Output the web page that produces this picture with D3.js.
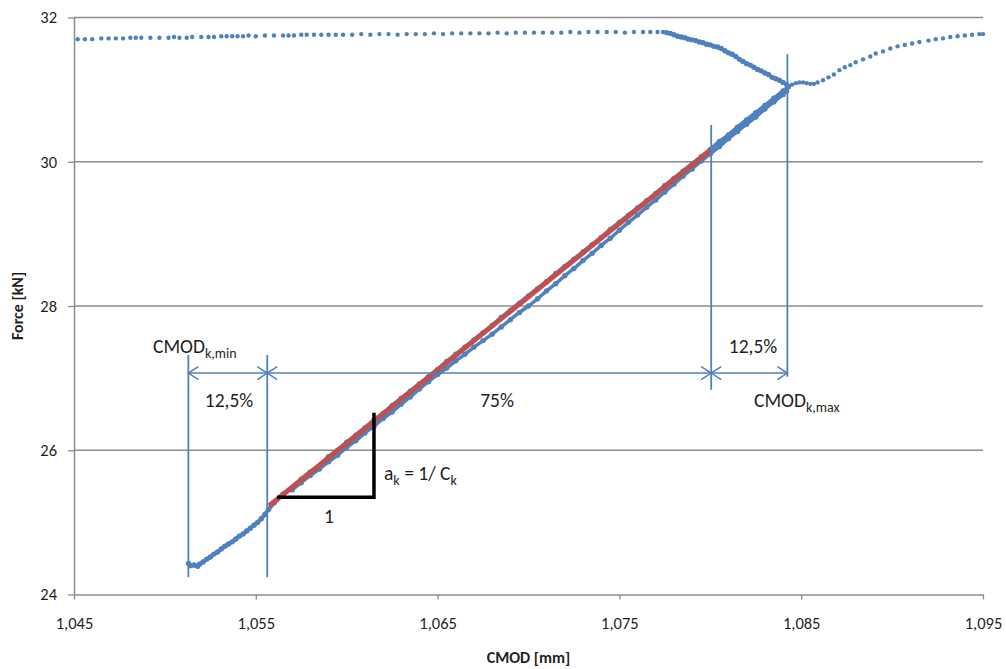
<!DOCTYPE html>
<html>
<head>
<meta charset="utf-8">
<script src="https://cdn.jsdelivr.net/npm/d3@7"></script>
<style>
  body { margin: 0; background: #fff; }
  text { font-family: Carlito, Calibri, Lato, sans-serif; fill: #1f1f1f; }
</style>
</head>
<body>
<div id="chart"></div>
<script>
// axis ticks
let xTicks = [1.045, 1.055, 1.065, 1.075, 1.085, 1.095];
let yTicks = [24, 26, 28, 30, 32];

// top plateau of the record (CMOD [mm], Force [kN])
let topFlat = [
  [1.0452,31.70],[1.0456,31.70],[1.0460,31.70],[1.0465,31.71],[1.0469,31.71],[1.0473,31.71],[1.0477,31.71],[1.0481,31.72],
  [1.0484,31.72],[1.0487,31.72],[1.0492,31.72],[1.0497,31.72],[1.0502,31.72],[1.0505,31.73],[1.0508,31.72],[1.0512,31.72],
  [1.0515,31.73],[1.0520,31.73],[1.0524,31.73],[1.0527,31.73],[1.0531,31.74],[1.0534,31.74],[1.0537,31.74],[1.0540,31.74],
  [1.0543,31.74],[1.0546,31.75],[1.0550,31.74],[1.0555,31.75],[1.0560,31.75],[1.0565,31.75],[1.0568,31.75],[1.0571,31.75],
  [1.0575,31.76],[1.0578,31.76],[1.0582,31.76],[1.0586,31.76],[1.0590,31.76],[1.0594,31.76],[1.0598,31.76],[1.0603,31.76],
  [1.0608,31.77],[1.0613,31.76],[1.0618,31.77],[1.0623,31.77],[1.0628,31.76],[1.0633,31.77],[1.0638,31.77],[1.0643,31.77],
  [1.0648,31.78],[1.0653,31.77],[1.0658,31.78],[1.0663,31.78],[1.0668,31.78],[1.0673,31.78],[1.0678,31.78],[1.0683,31.79],
  [1.0688,31.78],[1.0693,31.79],[1.0698,31.79],[1.0703,31.79],[1.0708,31.79],[1.0713,31.79],[1.0718,31.79],[1.0723,31.80],
  [1.0728,31.79],[1.0733,31.80],[1.0738,31.80],[1.0743,31.80],[1.0748,31.80],[1.0753,31.79],[1.0758,31.80],[1.0763,31.80],
  [1.0767,31.80],[1.0771,31.80],[1.0774,31.80]
];

// unloading drop towards CMOD k,max
let topDrop = [
  [1.0776,31.79],[1.0778,31.78],[1.0780,31.76],[1.0782,31.74],[1.0784,31.73],[1.0786,31.72],[1.0788,31.70],[1.0790,31.69],
  [1.0792,31.68],[1.0794,31.66],[1.0796,31.65],[1.0798,31.63],[1.0800,31.62],[1.0802,31.60],[1.0804,31.59],[1.0806,31.57],
  [1.0808,31.54],[1.0810,31.51],[1.0812,31.49],[1.0814,31.46],[1.0816,31.42],[1.0818,31.39],[1.0820,31.36],[1.0822,31.34],
  [1.0824,31.31],[1.0826,31.28],[1.0828,31.26],[1.0830,31.23],[1.0832,31.21],[1.0834,31.17],[1.0836,31.15],[1.0838,31.13],
  [1.0840,31.10],[1.0842,31.07]
];

// reloading past CMOD k,max
let topRise = [
  [1.0843,31.05],[1.0845,31.07],[1.0847,31.09],[1.0849,31.10],[1.0851,31.10],[1.0853,31.09],[1.0855,31.08],[1.0857,31.08],
  [1.0859,31.10],[1.0862,31.13],[1.0865,31.17],[1.0868,31.21],[1.0871,31.27],[1.0874,31.31],[1.0877,31.34],[1.0880,31.38],
  [1.0884,31.42],[1.0888,31.46],[1.0891,31.50],[1.0895,31.53],[1.0899,31.57],[1.0903,31.60],[1.0907,31.62],[1.0911,31.64],
  [1.0915,31.66],[1.0920,31.68],[1.0924,31.70],[1.0928,31.71],[1.0932,31.73],[1.0936,31.74],[1.0940,31.75],[1.0944,31.76],
  [1.0948,31.77],[1.0950,31.77]
];

// loading branch (lower start + upper band)
let loadUp = [
  [1.0513,24.43],[1.0514,24.40],[1.0516,24.41],[1.0518,24.39],[1.0519,24.42],[1.0521,24.45],[1.0523,24.49],[1.0525,24.52],
  [1.0527,24.56],[1.0529,24.59],[1.0531,24.63],[1.0533,24.67],[1.0535,24.70],[1.0537,24.73],[1.0539,24.77],[1.0541,24.81],
  [1.0543,24.84],[1.0545,24.88],[1.0547,24.92],[1.0549,24.96],[1.0551,25.00],[1.0553,25.05],[1.0555,25.11],[1.0557,25.18],
  [1.0560,25.27],[1.0565,25.39],[1.0570,25.48],[1.0575,25.60],[1.0580,25.70],[1.0585,25.78],[1.0590,25.91],[1.0595,26.00],
  [1.0600,26.11],[1.0605,26.21],[1.0610,26.31],[1.0615,26.42],[1.0620,26.51],[1.0625,26.62],[1.0630,26.72],[1.0635,26.82],
  [1.0640,26.92],[1.0645,27.02],[1.0650,27.12],[1.0655,27.23],[1.0660,27.33],[1.0665,27.43],[1.0670,27.53],[1.0675,27.63],
  [1.0680,27.73],[1.0685,27.84],[1.0690,27.94],[1.0695,28.04],[1.0700,28.14],[1.0705,28.24],[1.0710,28.34],[1.0715,28.45],
  [1.0720,28.55],[1.0725,28.65],[1.0730,28.75],[1.0735,28.85],[1.0740,28.95],[1.0745,29.06],[1.0750,29.16],[1.0755,29.26],
  [1.0760,29.36],[1.0765,29.46],[1.0770,29.56],[1.0775,29.67],[1.0780,29.77],[1.0785,29.87],[1.0790,29.97],[1.0795,30.07],
  [1.0800,30.17],[1.0805,30.28],[1.0810,30.37],[1.0815,30.48],[1.0820,30.58],[1.0825,30.68],[1.0830,30.78],[1.0835,30.88],
  [1.0840,30.98],[1.0843,31.04]
];

// second, slightly lower band of the loop
let loadLow = [
  [1.0570,25.45],[1.0575,25.55],[1.0580,25.65],[1.0585,25.74],[1.0590,25.84],[1.0595,25.93],[1.0600,26.04],[1.0605,26.13],
  [1.0610,26.24],[1.0615,26.33],[1.0620,26.44],[1.0625,26.53],[1.0630,26.64],[1.0635,26.74],[1.0640,26.85],[1.0645,26.95],
  [1.0650,27.05],[1.0655,27.14],[1.0660,27.24],[1.0665,27.33],[1.0670,27.43],[1.0675,27.52],[1.0680,27.61],[1.0685,27.71],
  [1.0690,27.81],[1.0695,27.91],[1.0700,28.00],[1.0705,28.10],[1.0710,28.21],[1.0715,28.31],[1.0720,28.42],[1.0725,28.52],
  [1.0730,28.63],[1.0735,28.73],[1.0740,28.84],[1.0745,28.94],[1.0750,29.05],[1.0755,29.16],[1.0760,29.26],[1.0765,29.37],
  [1.0770,29.47],[1.0775,29.58],[1.0780,29.69],[1.0785,29.80],[1.0790,29.90],[1.0795,30.01],[1.0800,30.11],[1.0805,30.21],
  [1.0810,30.32],[1.0815,30.42],[1.0820,30.52],[1.0825,30.62],[1.0830,30.73],[1.0835,30.83],[1.0840,30.93],[1.0842,30.98]
];

// linear fit between 12,5% and 87,5%
let fitX = [1.05573, 1.0800];
let fitY = [25.23, 30.16];

// CMOD markers and their vertical extents
let markX = [1.05129, 1.05563, 1.08005, 1.08424];
let markTop = [27.32, 27.32, 30.51, 31.49];
let markBottom = [24.24, 24.24, 26.84, 27.02];
let dimY = 27.07;
let dimLabels = ['12,5%', '75%', '12,5%'];

// slope triangle
let triX = [1.05617, 1.0615];
let triY = [25.35, 26.52];

let width = 1006;
let height = 669;
let plot = {left: 74, right: 983, top: 17.5, bottom: 594.5};
let blue = '#4f81bd';
let red = '#c0504d';
let grey = '#8c8c8c';

let svg = d3.select('#chart').append('svg')
    .attr('width', width)
    .attr('height', height);

let x = d3.scaleLinear().domain([1.045, 1.095]).range([plot.left, plot.right]);
let y = d3.scaleLinear().domain([24, 32]).range([plot.bottom, plot.top]);

let defs = svg.append('defs');
defs.append('marker')
    .attr('id', 'chev')
    .attr('markerUnits', 'userSpaceOnUse')
    .attr('markerWidth', 14).attr('markerHeight', 16)
    .attr('viewBox', '-12 -8 14 16')
    .attr('refX', 0).attr('refY', 0)
    .attr('orient', 'auto-start-reverse')
  .append('path')
    .attr('d', 'M-10,-6.5L0,0L-10,6.5')
    .attr('fill', 'none')
    .attr('stroke', blue)
    .attr('stroke-width', 1.5);

// gridlines
svg.append('g')
  .selectAll('line')
  .data(yTicks.filter(d => d > 24))
  .enter().append('line')
    .attr('x1', plot.left).attr('x2', plot.right)
    .attr('y1', d => y(d)).attr('y2', d => y(d))
    .attr('stroke', grey)
    .attr('stroke-width', 1.3);

// axes
let fmt = d => d.toFixed(3).replace('.', ',');
let xAxis = svg.append('g')
    .attr('transform', 'translate(0,' + plot.bottom + ')')
    .call(d3.axisBottom(x).tickValues(xTicks).tickFormat(fmt).tickSize(5).tickPadding(18).tickSizeOuter(0));
let yAxis = svg.append('g')
    .attr('transform', 'translate(' + plot.left + ',0)')
    .call(d3.axisLeft(y).tickValues(yTicks).tickSize(6).tickPadding(11).tickSizeOuter(0));
[xAxis, yAxis].forEach(function(a) {
  a.select('.domain').attr('stroke', grey).attr('stroke-width', 1.5);
  a.selectAll('.tick line').attr('stroke', grey).attr('stroke-width', 1.3);
  a.selectAll('.tick text')
    .style('font-family', 'Carlito, Calibri, Lato, sans-serif')
    .style('font-size', '16.5px')
    .attr('fill', '#1f1f1f');
});

// axis titles
svg.append('text')
    .attr('x', (plot.left + plot.right) / 2)
    .attr('y', 663)
    .attr('text-anchor', 'middle')
    .style('font-size', '16px')
    .style('font-weight', 'bold')
    .text('CMOD [mm]');
svg.append('text')
    .attr('transform', 'translate(23,' + (plot.top + plot.bottom) / 2 + ') rotate(-90)')
    .attr('text-anchor', 'middle')
    .style('font-size', '16px')
    .style('font-weight', 'bold')
    .text('Force [kN]');

// measured points
let line = d3.line().x(d => x(d[0])).y(d => y(d[1]));
function series(data, lineWidth) {
  let g = svg.append('g');
  if (lineWidth > 0) {
    g.append('path')
      .datum(data)
      .attr('d', line)
      .attr('fill', 'none')
      .attr('stroke', blue)
      .attr('stroke-width', lineWidth)
      .attr('stroke-linejoin', 'round')
      .attr('stroke-linecap', 'round');
  }
  g.selectAll('circle')
    .data(data)
    .enter().append('circle')
      .attr('cx', d => x(d[0]))
      .attr('cy', d => y(d[1]))
      .attr('r', lineWidth > 0 ? 2.7 : 2.2)
      .attr('fill', blue);
}
series(topFlat, 0);
series(topDrop, 3.5);
series(topRise, 0);
series(loadLow, 3.5);
series(loadUp, 4);

// fit line
svg.append('line')
    .attr('x1', x(fitX[0])).attr('y1', y(fitY[0]))
    .attr('x2', x(fitX[1])).attr('y2', y(fitY[1]))
    .attr('stroke', red)
    .attr('stroke-width', 5);

// CMOD marker lines
svg.append('g')
  .selectAll('line')
  .data(markX)
  .enter().append('line')
    .attr('x1', d => x(d)).attr('x2', d => x(d))
    .attr('y1', (d, i) => y(markTop[i]))
    .attr('y2', (d, i) => y(markBottom[i]))
    .attr('stroke', blue)
    .attr('stroke-width', 1.8);

// dimension arrows
svg.append('g')
  .selectAll('line')
  .data(d3.range(3))
  .enter().append('line')
    .attr('x1', i => x(markX[i])).attr('x2', i => x(markX[i + 1]))
    .attr('y1', y(dimY)).attr('y2', y(dimY))
    .attr('stroke', blue)
    .attr('stroke-width', 1.5)
    .attr('marker-start', 'url(#chev)')
    .attr('marker-end', 'url(#chev)');

// slope triangle
svg.append('path')
    .attr('d', 'M' + x(triX[0]) + ',' + y(triY[0]) + 'H' + x(triX[1]) + 'V' + y(triY[1]))
    .attr('fill', 'none')
    .attr('stroke', '#000')
    .attr('stroke-width', 3.5);

// annotation texts
let ann = svg.append('g').style('font-size', '19.5px');
ann.append('text').attr('x', 229).attr('y', 407).attr('text-anchor', 'middle').text(dimLabels[0]);
ann.append('text').attr('x', 497).attr('y', 407).attr('text-anchor', 'middle').text(dimLabels[1]);
ann.append('text').attr('x', 753).attr('y', 353).attr('text-anchor', 'middle').text(dimLabels[2]);

let tMin = ann.append('text').attr('x', 153).attr('y', 353);
tMin.append('tspan').text('CMOD');
tMin.append('tspan').attr('dy', 5).style('font-size', '14px').text('k,min');

let tMax = ann.append('text').attr('x', 754).attr('y', 407);
tMax.append('tspan').text('CMOD');
tMax.append('tspan').attr('dy', 5).style('font-size', '14px').text('k,max');

let tA = ann.append('text').attr('x', 384).attr('y', 480);
tA.append('tspan').text('a');
tA.append('tspan').attr('dy', 5).style('font-size', '14px').text('k');
tA.append('tspan').attr('dy', -5).text(' = 1/ C');
tA.append('tspan').attr('dy', 5).style('font-size', '14px').text('k');

ann.append('text').attr('x', 329).attr('y', 523).attr('text-anchor', 'middle').text('1');
</script>
</body>
</html>
